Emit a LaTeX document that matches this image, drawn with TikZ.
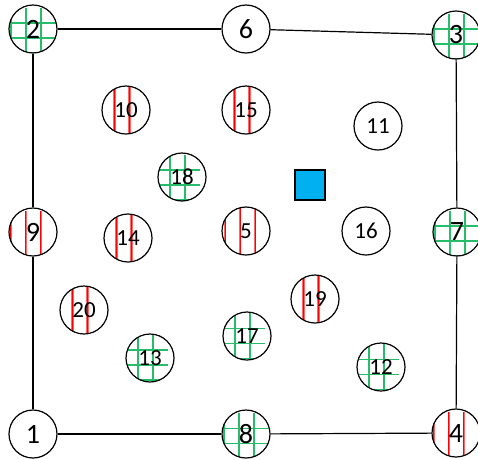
\documentclass[tikz,border=0pt]{standalone}
\usepackage{fontspec}
\setmainfont{Carlito}
\definecolor{gridgreen}{RGB}{0,176,80}
\definecolor{stripered}{RGB}{255,0,0}
\definecolor{sqblue}{RGB}{0,176,240}
\tikzset{
  base/.style={circle, draw=black, line width=1.2pt, minimum size=48pt, inner sep=0pt},
  outerfont/.style={font=\fontsize{28}{28}\selectfont},
  innerfont/.style={font=\fontsize{23}{23}\selectfont},
  plainnode/.style={base},
  stripednode/.style={base, path picture={
    \begin{scope}[shift={(path picture bounding box.center)}]
      \foreach \d in {-15,0,15} \draw[stripered!60, line width=2.4pt] (\d pt,-30pt) -- (\d pt,30pt);
      \foreach \d in {-15,0,15} \draw[stripered, line width=1pt] (\d pt,-30pt) -- (\d pt,30pt);
    \end{scope}}},
  gridnode/.style={base, path picture={
    \begin{scope}[shift={(path picture bounding box.center)}]
      \foreach \d in {-15,0,15} {
        \draw[gridgreen!85, line width=1.8pt] (\d pt,-30pt) -- (\d pt,30pt);
        \draw[gridgreen!85, line width=1.8pt] (-30pt,\d pt) -- (30pt,\d pt);
      }
    \end{scope}}},
  edge/.style={draw=black, line width=1.2pt}
}
\begin{document}
\begin{tikzpicture}[x=1pt, y=-1pt]
  \useasboundingbox (0,0) rectangle (478,459);
  % outer nodes
  \node[plainnode, outerfont] (n1) at (33,434) {1};
  \node[gridnode, outerfont] (n2) at (33,29) {2};
  \node[gridnode, outerfont] (n3) at (456,35) {3};
  \node[stripednode, outerfont] (n4) at (456,433) {4};
  \node[stripednode, innerfont] (n5) at (246,231) {5};
  \node[plainnode, outerfont] (n6) at (246,29) {6};
  \node[gridnode, outerfont] (n7) at (457,232) {7};
  \node[gridnode, outerfont] (n8) at (246,434) {8};
  \node[stripednode, outerfont] (n9) at (33,232) {9};
  % inner nodes
  \node[stripednode, innerfont] (n10) at (126,110) {10};
  \node[plainnode, innerfont] (n11) at (378,126) {11};
  \node[gridnode, innerfont] (n12) at (381,367) {12};
  \node[gridnode, innerfont] (n13) at (150,358) {13};
  \node[stripednode, innerfont] (n14) at (128,238) {14};
  \node[stripednode, innerfont] (n15) at (246,110) {15};
  \node[plainnode, innerfont] (n16) at (366,231) {16};
  \node[gridnode, innerfont] (n17) at (247,336) {17};
  \node[gridnode, innerfont] (n18) at (182,177) {18};
  \node[stripednode, innerfont] (n19) at (315,299) {19};
  \node[stripednode, innerfont] (n20) at (84,310) {20};
  % square
  \node[draw=black, line width=1.2pt, fill=sqblue, minimum size=30pt, inner sep=0pt] (sq) at (310,185) {};
  % frame connectors
  \draw[edge] (n2) -- (n6);
  \draw[edge] (n6) -- (n3);
  \draw[edge] (n3) -- (n7);
  \draw[edge] (n7) -- (n4);
  \draw[edge] (n4) -- (n8);
  \draw[edge] (n8) -- (n1);
  \draw[edge] (n1) -- (n9);
  \draw[edge] (n9) -- (n2);
\end{tikzpicture}
\end{document}
